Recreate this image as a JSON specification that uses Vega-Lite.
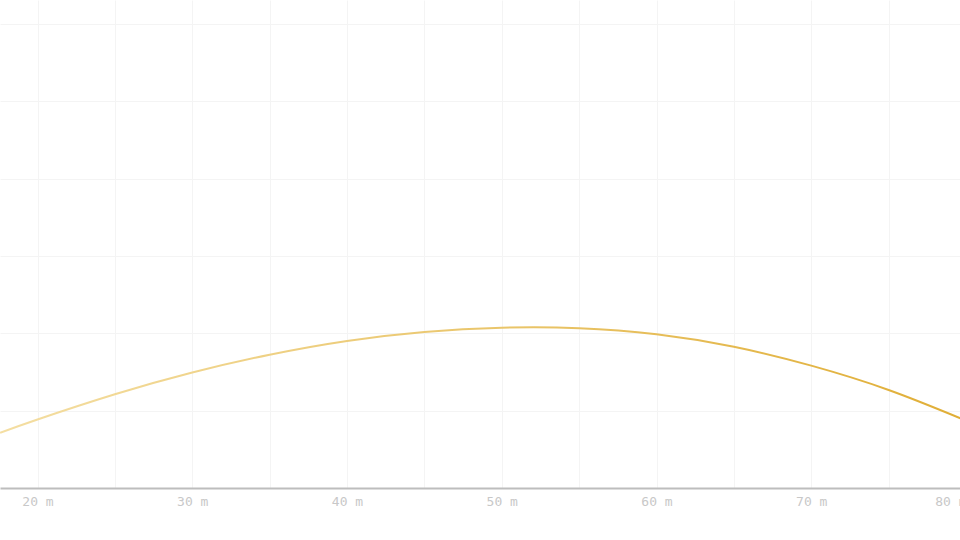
{
  "$schema": "https://vega.github.io/schema/vega-lite/v6.json",
  "width": 966,
  "height": 488,
  "padding": {"left": 0, "top": 0, "right": 0, "bottom": 52},
  "autosize": {"type": "none"},
  "background": "white",
  "data": {
    "values": [
      {"distance": 17.58, "height": 3.57},
      {"distance": 20.0, "height": 4.43},
      {"distance": 25.0, "height": 6.06},
      {"distance": 30.0, "height": 7.47},
      {"distance": 35.0, "height": 8.62},
      {"distance": 40.0, "height": 9.51},
      {"distance": 45.0, "height": 10.09},
      {"distance": 50.0, "height": 10.36},
      {"distance": 55.0, "height": 10.33},
      {"distance": 60.0, "height": 9.94},
      {"distance": 65.0, "height": 9.13},
      {"distance": 70.0, "height": 7.91},
      {"distance": 75.0, "height": 6.34},
      {"distance": 79.64, "height": 4.51}
    ]
  },
  "mark": {
    "type": "line",
    "interpolate": "natural",
    "strokeWidth": 2,
    "clip": true,
    "color": {
      "gradient": "linear",
      "x1": 0, "y1": 0, "x2": 1, "y2": 0,
      "stops": [
        {"offset": 0, "color": "#f4dea2"},
        {"offset": 1, "color": "#e0ae36"}
      ]
    }
  },
  "encoding": {
    "x": {
      "field": "distance",
      "type": "quantitative",
      "scale": {"domain": [17.576, 80], "nice": false, "zero": false},
      "axis": {
        "title": null,
        "values": [20, 25, 30, 35, 40, 45, 50, 55, 60, 65, 70, 75, 80],
        "labelExpr": "datum.value % 10 === 0 ? datum.value + ' m' : ''",
        "ticks": false,
        "domainColor": "#bdbdbd",
        "domainWidth": 2,
        "gridColor": "#f4f4f4",
        "labelColor": "#c8c8c8",
        "labelFont": "DejaVu Sans Mono",
        "labelFontSize": 13,
        "labelPadding": 7
      }
    },
    "y": {
      "field": "height",
      "type": "quantitative",
      "scale": {"domain": [0, 31.55], "nice": false},
      "axis": {
        "title": null,
        "values": [5, 10, 15, 20, 25, 30],
        "labels": false,
        "ticks": false,
        "domain": false,
        "gridColor": "#f4f4f4"
      }
    }
  },
  "config": {
    "view": {"stroke": null}
  }
}
